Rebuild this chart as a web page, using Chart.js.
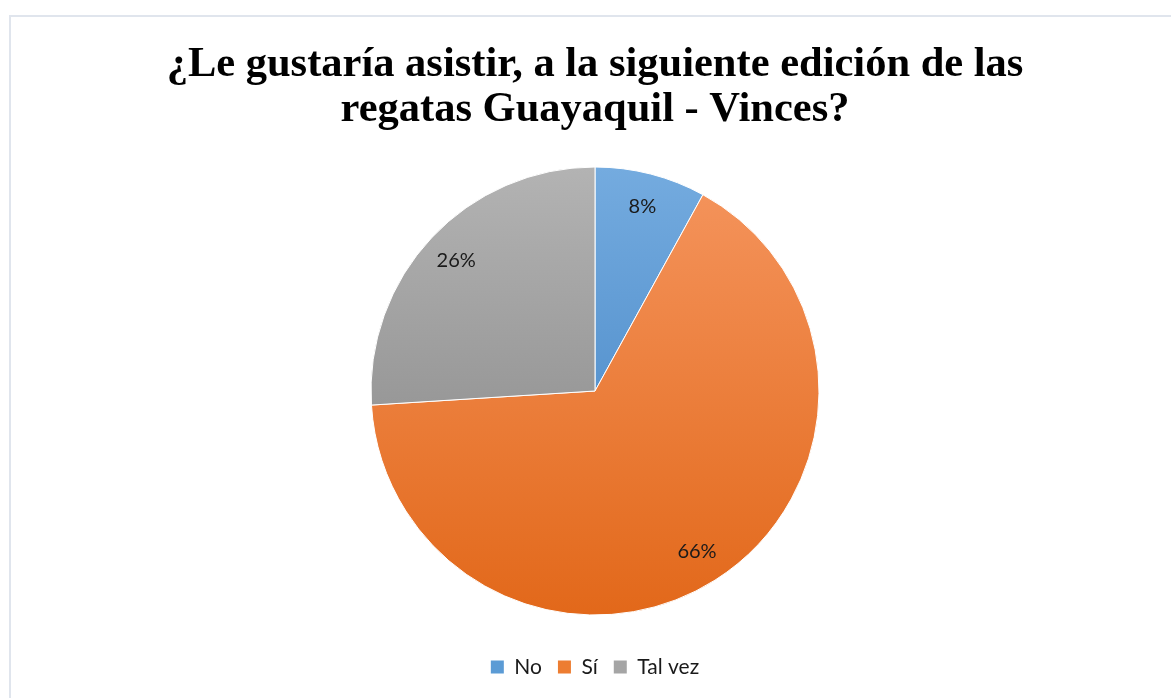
<!DOCTYPE html>
<html>
<head>
<meta charset="utf-8">
<script src="https://cdn.jsdelivr.net/npm/chart.js@4/dist/chart.umd.min.js"></script>
<style>
    html, body { margin: 0; padding: 0; background: #fff; }
    #frame {
        position: absolute;
        left: 9px;
        top: 15px;
        width: 1160px;
        height: 681px;
        border-top: 2px solid #e0e5ed;
        border-left: 2px solid #e0e5ed;
    }
</style>
</head>
<body>
<div id="frame"><canvas id="pieChart"></canvas></div>
<script>
// Chart data
const chartTitle = ['¿Le gustaría asistir, a la siguiente edición de las', 'regatas Guayaquil - Vinces?'];
const categories = ['No', 'Sí', 'Tal vez'];
const percentages = [8, 66, 26];

// Slice colours (light top, dark bottom) and flat legend colours
const topColors = ['#74abdf', '#f5955e', '#b3b3b3'];
const bottomColors = ['#3c7ec0', '#e2681a', '#808080'];
const legendColors = ['#5b9bd5', '#ed7d31', '#a5a5a5'];

const PIE_RADIUS = 224;

// Vertical gradient across the pie
function sliceFill(context) {
    const i = context.dataIndex;
    const area = context.chart.chartArea;
    if (!area) return legendColors[i];
    const cy = (area.top + area.bottom) / 2;
    const g = context.chart.ctx.createLinearGradient(0, cy - PIE_RADIUS, 0, cy + PIE_RADIUS);
    g.addColorStop(0, topColors[i]);
    g.addColorStop(1, bottomColors[i]);
    return g;
}

// Percent labels inside the slices
const sliceLabels = {
    id: 'sliceLabels',
    afterDatasetsDraw(chart) {
        const ctx = chart.ctx;
        const meta = chart.getDatasetMeta(0);
        ctx.save();
        ctx.font = '20px Lato';
        ctx.fillStyle = '#1a1a1a';
        ctx.textAlign = 'center';
        ctx.textBaseline = 'middle';
        meta.data.forEach((arc, i) => {
            const p = arc.getProps(['x', 'y', 'startAngle', 'endAngle', 'outerRadius'], true);
            const mid = (p.startAngle + p.endAngle) / 2;
            const d = p.outerRadius * 0.85;
            ctx.fillText(percentages[i] + '%', p.x + Math.cos(mid) * d, p.y + Math.sin(mid) * d);
        });
        ctx.restore();
    }
};

function createPieChart() {
    const ctx = document.getElementById('pieChart');
    if (!ctx) return null;

    return new Chart(ctx, {
        type: 'pie',
        data: {
            labels: categories,
            datasets: [
                {
                    data: percentages,
                    backgroundColor: sliceFill,
                    borderColor: '#ffffff',
                    borderWidth: 1,
                    radius: PIE_RADIUS
                }
            ]
        },
        options: {
            responsive: true,
            maintainAspectRatio: false,
            animation: false,
            layout: {
                padding: { left: 8, right: 0, top: 0, bottom: 10.5 }
            },
            plugins: {
                title: {
                    display: true,
                    text: chartTitle,
                    color: '#000000',
                    font: { family: '"Liberation Serif", "Times New Roman", serif', size: 42.5, weight: 'bold', lineHeight: 1.06 },
                    padding: { top: 25.4, bottom: 9 }
                },
                legend: {
                    position: 'bottom',
                    labels: {
                        color: '#1a1a1a',
                        font: { family: 'Lato', size: 21 },
                        boxWidth: 13,
                        boxHeight: 13,
                        padding: 16,
                        generateLabels: (chart) => categories.map((c, i) => ({
                            text: c,
                            fillStyle: legendColors[i],
                            strokeStyle: legendColors[i],
                            lineWidth: 0,
                            fontColor: '#1a1a1a',
                            index: i,
                            hidden: false
                        }))
                    }
                },
                tooltip: { enabled: false }
            }
        },
        plugins: [sliceLabels]
    });
}

createPieChart();
</script>
</body>
</html>
